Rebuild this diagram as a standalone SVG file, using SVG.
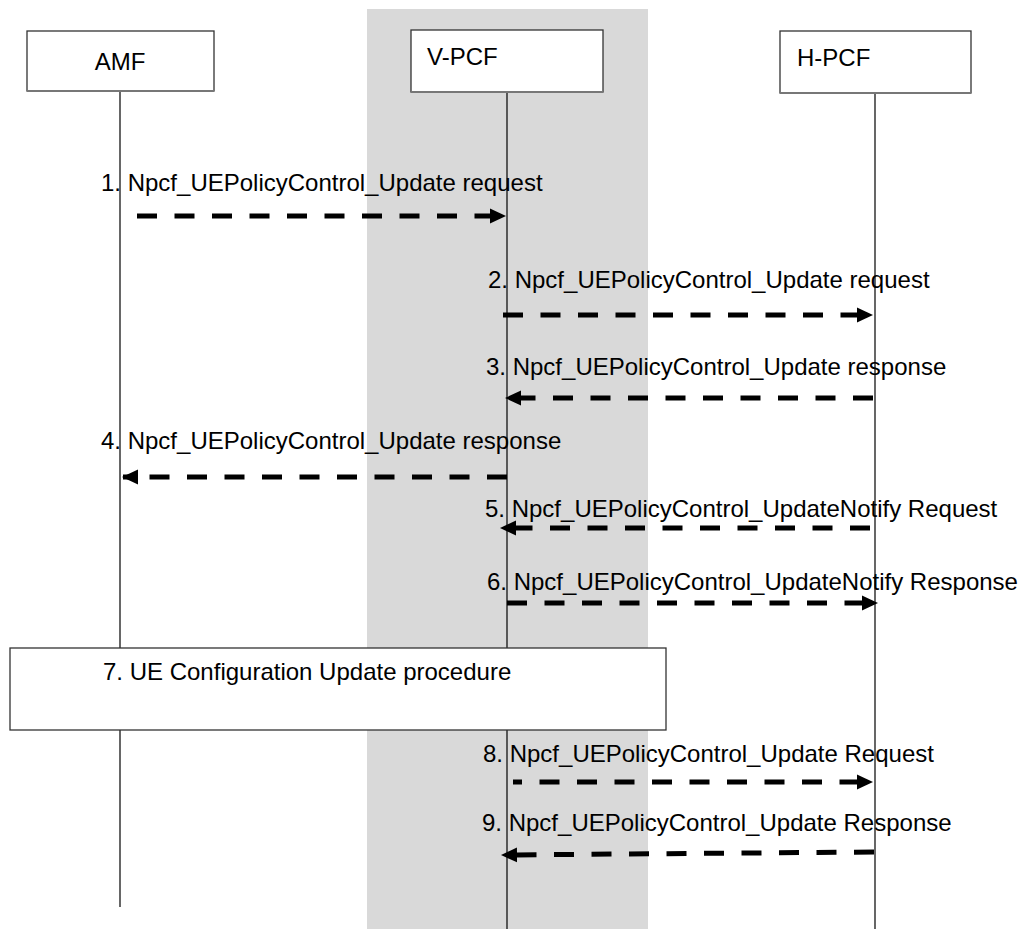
<svg xmlns="http://www.w3.org/2000/svg" width="1018" height="929" viewBox="0 0 1018 929">
<defs>
<style>
text{font-family:"Liberation Sans",Arial,sans-serif;font-size:24px;fill:#000}
.box{fill:#fff;stroke:#333;stroke-width:1.3}
.shadow{stroke:#777;stroke-width:2}
.life{stroke:#000;stroke-width:1.2;fill:none}
.msg{stroke:#000;stroke-width:5;stroke-dasharray:20 17.5;fill:none}
</style>
<marker id="ah" markerUnits="userSpaceOnUse" markerWidth="16" markerHeight="16" viewBox="0 0 16 16" refX="15" refY="8" orient="auto">
<path d="M0,0.5 L16,8 L0,15.5 Z" fill="#000"/>
</marker>
</defs>
<rect x="367" y="9" width="281" height="920" fill="#d9d9d9"/>
<g id="lifelines">
<line class="life" x1="120" y1="91" x2="120" y2="907"/>
<line class="life" x1="507" y1="92" x2="507" y2="929" stroke="#444"/>
<line class="life" x1="875" y1="93" x2="875" y2="929"/>
</g>
<g id="amf">
<rect class="box" x="27" y="31" width="187" height="60"/>
<line class="shadow" x1="27" y1="91" x2="214" y2="91"/>
<text x="120" y="70" text-anchor="middle">AMF</text>
</g>
<g id="vpcf">
<rect class="box" x="411" y="30" width="192" height="62"/>
<line class="shadow" x1="411" y1="92" x2="603" y2="92"/>
<text x="427" y="65">V-PCF</text>
</g>
<g id="hpcf">
<rect class="box" x="780" y="31" width="191" height="62"/>
<line class="shadow" x1="780" y1="93" x2="971" y2="93"/>
<text x="797" y="66">H-PCF</text>
</g>
<g id="step7">
<rect class="box" x="10" y="648" width="656" height="82"/>
<text x="103" y="680">7. UE Configuration Update procedure</text>
</g>
<g id="connectors">
<line class="msg" x1="137" y1="216" x2="505" y2="216" marker-end="url(#ah)"/>
<line class="msg" x1="503" y1="315" x2="872" y2="315" marker-end="url(#ah)"/>
<line class="msg" x1="873" y1="398" x2="506" y2="398" marker-end="url(#ah)"/>
<line class="msg" x1="507" y1="477" x2="123" y2="477" marker-end="url(#ah)"/>
<line class="msg" x1="870" y1="528" x2="501" y2="528" marker-end="url(#ah)"/>
<line class="msg" x1="507" y1="603" x2="877" y2="603" marker-end="url(#ah)"/>
<line class="msg" x1="513" y1="782" x2="872" y2="782" stroke-dashoffset="11" marker-end="url(#ah)"/>
<line class="msg" x1="874" y1="852" x2="502" y2="855" marker-end="url(#ah)"/>
</g>
<g id="labels">
<text x="101" y="191">1. Npcf_UEPolicyControl_Update request</text>
<text x="488" y="288">2. Npcf_UEPolicyControl_Update request</text>
<text x="486" y="375">3. Npcf_UEPolicyControl_Update response</text>
<text x="101" y="449">4. Npcf_UEPolicyControl_Update response</text>
<text x="485" y="517">5. Npcf_UEPolicyControl_UpdateNotify Request</text>
<text x="487" y="590">6. Npcf_UEPolicyControl_UpdateNotify Response</text>
<text x="483" y="762">8. Npcf_UEPolicyControl_Update Request</text>
<text x="482" y="831">9. Npcf_UEPolicyControl_Update Response</text>
</g>
</svg>
